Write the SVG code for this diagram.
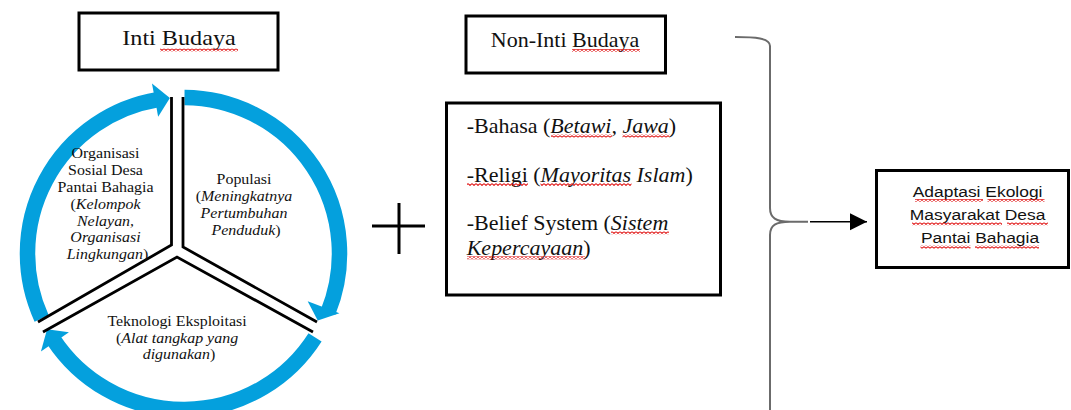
<svg xmlns="http://www.w3.org/2000/svg" width="1071" height="410" viewBox="0 0 1071 410">
<defs>
<style>
.box{fill:#fff;stroke:#000;stroke-width:3}
.ser{font-family:"Liberation Serif","Times New Roman",serif;fill:#111}
.san{font-family:"Liberation Sans",Arial,sans-serif;fill:#111}
.it{font-style:italic}
.ring{fill:none;stroke:#04a0dd;stroke-width:15.5}
.head{fill:#04a0dd}
.div{fill:none;stroke:#000;stroke-width:2.8;stroke-linejoin:miter}
.brace{fill:none;stroke:#6b6b6b;stroke-width:2}
.sq{fill:url(#squig)}
</style>
<pattern id="squig" patternUnits="userSpaceOnUse" width="4" height="3">
<path d="M0 0.6 L2 2.4 L4 0.6" fill="none" stroke="#e01010" stroke-width="1.1"/>
</pattern>
<marker id="arr" markerUnits="userSpaceOnUse" markerWidth="18" markerHeight="18" refX="17" refY="8.5" orient="auto">
<path d="M0 0 L17 8.5 L0 17 Z" fill="#000"/>
</marker>
</defs>
<rect width="1071" height="410" fill="#fff"/>

<g id="connectors">
<g id="cycle-arrows">
<path class="ring" d="M41.65 318.44 A156 156 0 0 1 157.75 99.64"/>
<polygon class="head" points="158.17,116.82 151.98,83.39 169.9,98.09"/>
<path class="ring" d="M184.5 97.5 A156 156 0 0 1 328.14 311.94"/>
<polygon class="head" points="307.67,301.16 339.41,313.35 317.74,320.43"/>
<path class="ring" d="M315.07 337.32 A156 156 0 0 1 53.41 339.6"/>
<polygon class="head" points="68.95,332.23 40.93,351.49 47.06,329.13"/>
</g>
<path class="brace" d="M735 37 C755 37 770 38 770 46 L770 208 C770 218 776 221.7 790 221.7 L808 221.7 M790 221.7 C776 221.7 770 225 770 235 L770 412"/>
<line x1="810" y1="221.7" x2="867" y2="221.7" stroke="#000" stroke-width="1.5" marker-end="url(#arr)"/>
</g>

<g id="sector-dividers">
<polyline class="div" points="171.5,97 171.5,245 38,322"/>
<polyline class="div" points="183,97 183,247 317,322"/>
<polyline class="div" points="43,332 177,257 313,332"/>
</g>

<g id="organisasi-sosial">
<text class="ser" font-size="14.5" text-anchor="middle" transform="translate(107.5 0) scale(1.1 1)">
<tspan x="0" y="158.5">Organisasi</tspan>
<tspan x="0" y="175.3">Sosial Desa</tspan>
<tspan x="0" y="192.1">Pantai Bahagia</tspan>
<tspan x="0" y="208.9">(<tspan class="it">Kelompok</tspan></tspan>
<tspan x="0" y="225.7" class="it">Nelayan,</tspan>
<tspan x="0" y="242.5" class="it">Organisasi</tspan>
<tspan x="0" y="259.3"><tspan class="it">Lingkungan</tspan>)</tspan>
</text>
</g>

<g id="populasi">
<text class="ser" font-size="14.5" text-anchor="middle" transform="translate(246 0) scale(1.1 1)">
<tspan x="0" y="184.5">Populasi</tspan>
<tspan x="0" y="201.2">(<tspan class="it">Meningkatnya</tspan></tspan>
<tspan x="0" y="217.9" class="it">Pertumbuhan</tspan>
<tspan x="0" y="234.6"><tspan class="it">Penduduk</tspan>)</tspan>
</text>
</g>

<g id="teknologi-eksploitasi">
<text class="ser" font-size="14.5" text-anchor="middle" transform="translate(179 0) scale(1.1 1)">
<tspan x="0" y="326">Teknologi Eksploitasi</tspan>
<tspan x="0" y="343">(<tspan class="it">Alat tangkap yang</tspan></tspan>
<tspan x="0" y="359.5"><tspan class="it">digunakan</tspan>)</tspan>
</text>
</g>

<g id="inti-budaya">
<rect class="box" x="79" y="13" width="199" height="57"/>
<text class="ser" font-size="22" text-anchor="middle" transform="translate(179 45) scale(1.1 1)">Inti Budaya</text>
<rect class="sq" x="160" y="48.5" width="78" height="3"/>
</g>

<g id="plus">
<line x1="399" y1="203" x2="399" y2="254" stroke="#000" stroke-width="3"/>
<line x1="372" y1="226" x2="425" y2="226" stroke="#000" stroke-width="3"/>
</g>

<g id="non-inti-budaya">
<rect class="box" x="466" y="16" width="199.5" height="57"/>
<text class="ser" font-size="20" text-anchor="middle" transform="translate(565 46.5) scale(1.1 1)">Non-Inti Budaya</text>
<rect class="sq" x="572" y="49" width="68" height="3"/>
</g>

<g id="unsur-non-inti">
<rect class="box" x="446.5" y="103" width="274" height="192"/>
<text class="ser" font-size="20" transform="translate(466.7 0) scale(1.1 1)">
<tspan x="0" y="133.3">-Bahasa (<tspan class="it">Betawi, Jawa</tspan>)</tspan>
<tspan x="0" y="181.7">-Religi (<tspan class="it">Mayoritas Islam</tspan>)</tspan>
<tspan x="0" y="230">-Belief System (<tspan class="it">Sistem</tspan></tspan>
<tspan x="0" y="255"><tspan class="it">Kepercayaan</tspan>)</tspan>
</text>
<rect class="sq" x="551" y="134.5" width="61" height="3"/>
<rect class="sq" x="622.5" y="134.5" width="47" height="3"/>
<rect class="sq" x="467" y="183" width="61" height="3"/>
<rect class="sq" x="540.5" y="183" width="91" height="3"/>
<rect class="sq" x="611" y="231.3" width="58" height="3"/>
<rect class="sq" x="467" y="256.3" width="118" height="3"/>
</g>

<g id="adaptasi-ekologi">
<rect class="box" x="876.5" y="170.5" width="192" height="97"/>
<text class="san" font-size="15.5" text-anchor="middle" transform="translate(980 0) scale(1.125 1)">
<tspan x="0" y="196.7">Adaptasi Ekologi</tspan>
<tspan x="0" y="220">Masyarakat Desa</tspan>
<tspan x="0" y="243.3">Pantai Bahagia</tspan>
</text>
<rect class="sq" x="915" y="199" width="68" height="3"/>
<rect class="sq" x="987.5" y="199" width="57" height="3"/>
<rect class="sq" x="912" y="222.3" width="90" height="3"/>
<rect class="sq" x="1007" y="222.3" width="41" height="3"/>
<rect class="sq" x="920.5" y="245.6" width="50" height="3"/>
<rect class="sq" x="975" y="245.6" width="64" height="3"/>
</g>
</svg>
